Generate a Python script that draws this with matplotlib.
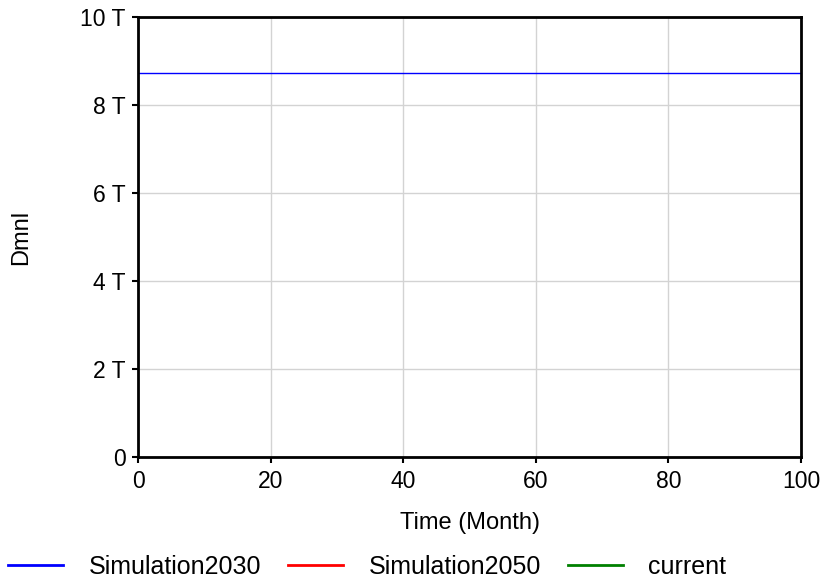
import matplotlib
matplotlib.use("Agg")
import matplotlib.pyplot as plt
from matplotlib.ticker import FuncFormatter

plt.rcParams['font.family'] = ['Liberation Sans', 'DejaVu Sans']

# data
time = [0, 100]
sim2030 = [8.73e12, 8.73e12]
sim2050 = []   # not visible in the picture
current = []   # not visible in the picture

xticks = [0, 20, 40, 60, 80, 100]
yticks = [0, 2e12, 4e12, 6e12, 8e12, 10e12]

fig = plt.figure(figsize=(8.25, 5.83), dpi=100)
ax = fig.add_axes([0.1673, 0.2161, 0.8036, 0.7547])

ax.plot(time, sim2030, color='#0000ff', lw=1, label='Simulation2030')
ax.plot(time[:len(sim2050)], sim2050, color='#ff0000', lw=2, label='Simulation2050')
ax.plot(time[:len(current)], current, color='#008000', lw=2, label='current')

ax.set_xlim(0, 100)
ax.set_ylim(0, 10e12)
ax.set_xticks(xticks)
ax.set_yticks(yticks)
ax.yaxis.set_major_formatter(FuncFormatter(lambda v, p: "0" if v == 0 else "%g T" % (v / 1e12)))
ax.grid(True, color='#d3d3d3', lw=1)
ax.tick_params(length=4, width=1.5, labelsize=16.5, pad=5)
for s in ax.spines.values():
    s.set_linewidth(2)

ax.set_xlabel("Time (Month)", fontsize=17, labelpad=14)
ax.set_ylabel("Dmnl", fontsize=17)
ax.yaxis.set_label_coords(-0.16, 0.5)

leg = ax.legend(loc='center left', bbox_to_anchor=(-0.1955, -0.249), ncol=3, frameon=False,
                fontsize=18, handlelength=2.2, columnspacing=1.1, handletextpad=1.0,
                borderaxespad=0, borderpad=0)
for h in leg.get_lines():
    h.set_linewidth(2)

plt.savefig("out.png", dpi=100)
